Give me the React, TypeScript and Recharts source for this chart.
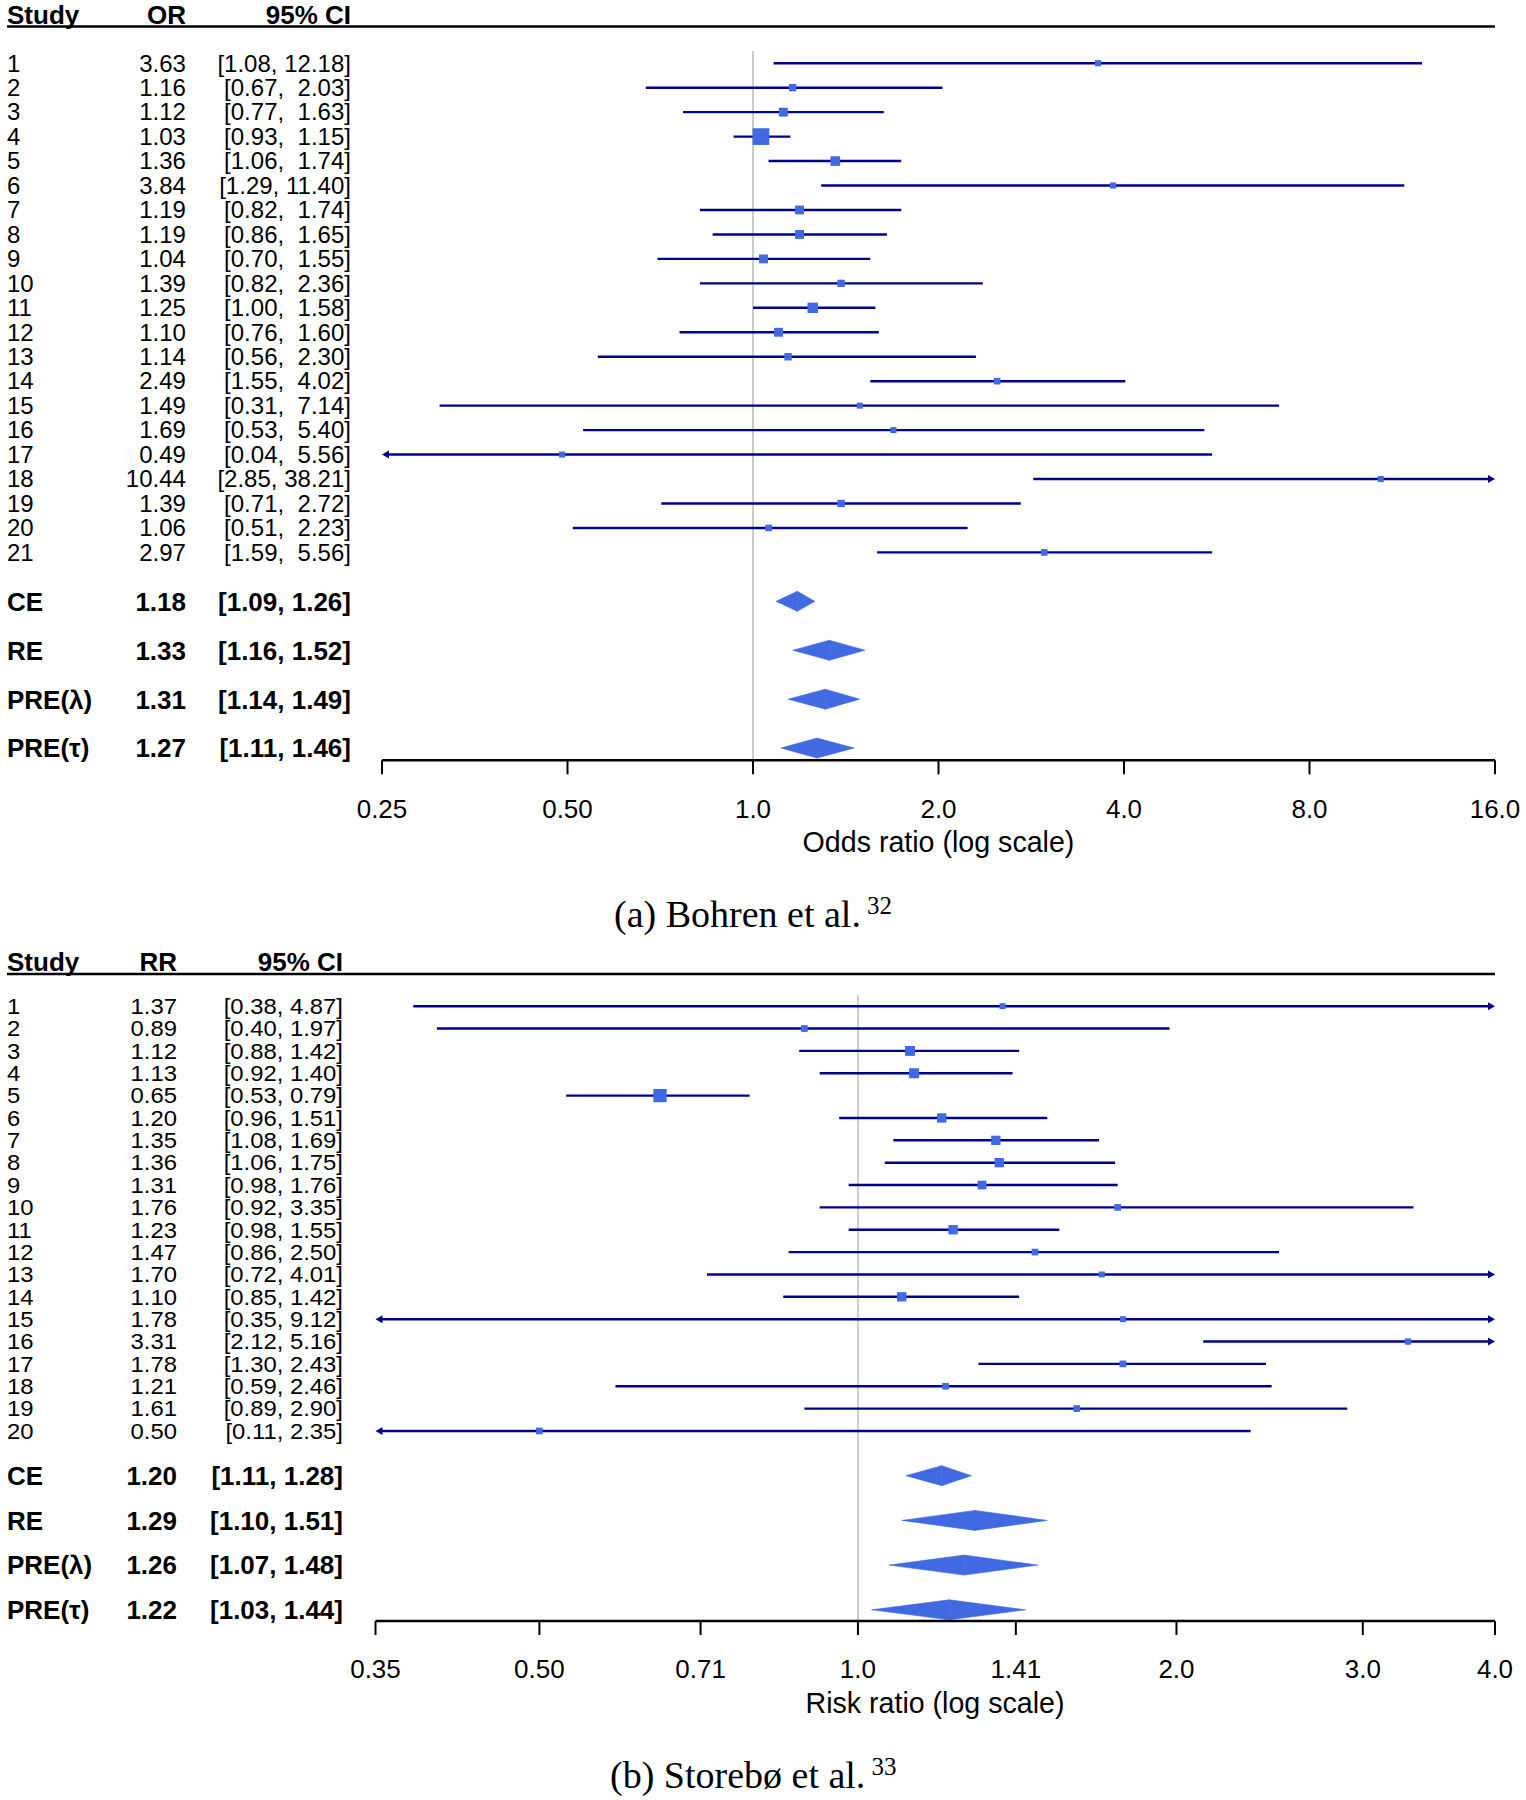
import React from 'react';
import { ComposedChart, XAxis, YAxis, Scatter, ReferenceLine } from 'recharts';

// ---------- Panel (a): Bohren et al. ----------
const studiesA = ['1', '2', '3', '4', '5', '6', '7', '8', '9', '10', '11', '12', '13', '14', '15', '16', '17', '18', '19', '20', '21'];
const estA = [3.63, 1.16, 1.12, 1.03, 1.36, 3.84, 1.19, 1.19, 1.04, 1.39, 1.25, 1.10, 1.14, 2.49, 1.49, 1.69, 0.49, 10.44, 1.39, 1.06, 2.97];
const lowA = [1.08, 0.67, 0.77, 0.93, 1.06, 1.29, 0.82, 0.86, 0.70, 0.82, 1.00, 0.76, 0.56, 1.55, 0.31, 0.53, 0.04, 2.85, 0.71, 0.51, 1.59];
const highA = [12.18, 2.03, 1.63, 1.15, 1.74, 11.40, 1.74, 1.65, 1.55, 2.36, 1.58, 1.60, 2.30, 4.02, 7.14, 5.40, 5.56, 38.21, 2.72, 2.23, 5.56];
const weightA = [1.2, 3.5, 6.5, 22, 8, 1.0, 6.5, 6.5, 6.5, 3.5, 9.5, 6.5, 3.5, 2.0, 0.8, 1.0, 0.8, 1.0, 3.5, 2.0, 2.0];
const sumLabelsA = ['CE', 'RE', 'PRE(λ)', 'PRE(τ)'];
const sumEstA = [1.18, 1.33, 1.31, 1.27];
const sumLowA = [1.09, 1.16, 1.14, 1.11];
const sumHighA = [1.26, 1.52, 1.49, 1.46];
const ticksA = [0.25, 0.5, 1, 2, 4, 8, 16];
const tickLabelsA = ['0.25', '0.50', '1.0', '2.0', '4.0', '8.0', '16.0'];

// ---------- Panel (b): Storebø et al. ----------
const studiesB = ['1', '2', '3', '4', '5', '6', '7', '8', '9', '10', '11', '12', '13', '14', '15', '16', '17', '18', '19', '20'];
const estB = [1.37, 0.89, 1.12, 1.13, 0.65, 1.20, 1.35, 1.36, 1.31, 1.76, 1.23, 1.47, 1.70, 1.10, 1.78, 3.31, 1.78, 1.21, 1.61, 0.50];
const lowB = [0.38, 0.40, 0.88, 0.92, 0.53, 0.96, 1.08, 1.06, 0.98, 0.92, 0.98, 0.86, 0.72, 0.85, 0.35, 2.12, 1.30, 0.59, 0.89, 0.11];
const highB = [4.87, 1.97, 1.42, 1.40, 0.79, 1.51, 1.69, 1.75, 1.76, 3.35, 1.55, 2.50, 4.01, 1.42, 9.12, 5.16, 2.43, 2.46, 2.90, 2.35];
const weightB = [0.5, 1.9, 8.4, 8.4, 15, 7.1, 7.1, 7.1, 5.9, 1.9, 7.1, 1.9, 0.5, 7.1, 0.5, 1.1, 1.9, 1.9, 1.9, 1.9];
const sumLabelsB = ['CE', 'RE', 'PRE(λ)', 'PRE(τ)'];
const sumEstB = [1.20, 1.29, 1.26, 1.22];
const sumLowB = [1.11, 1.10, 1.07, 1.03];
const sumHighB = [1.28, 1.51, 1.48, 1.44];
const ticksB = [0.35, 0.5, 0.71, 1, 1.41, 2, 3, 4];
const tickLabelsB = ['0.35', '0.50', '0.71', '1.0', '1.41', '2.0', '3.0', '4.0'];

const LINE = '#00008B';
const BOX = '#4169E1';
const SANS = '"Liberation Sans", Arial, Helvetica, sans-serif';
const SERIF = '"Liberation Serif", "Times New Roman", serif';

type PanelProps = {
  studies: string[]; est: number[]; low: number[]; high: number[]; weight: number[];
  sumLabels: string[]; sumEst: number[]; sumLow: number[]; sumHigh: number[];
  domain: [number, number]; ticks: number[]; tickLabels: string[];
  top: number; height: number; marginTop: number; xAxisH: number; leftW: number;
  estRight: number; ciRight: number; maxBox: number; rowFont: number; rowStretch: number; sumFont: number;
};

function CiShape(p: any) {
  const { x1, y1, x2, arrowL, arrowR } = p;
  const y = y1;
  const a = 7;
  const h = 4;
  const xs = arrowL ? x1 + a - 1 : x1;
  const xe = arrowR ? x2 - a + 1 : x2;
  return (
    <g>
      <line x1={xs} y1={y} x2={xe} y2={y} stroke={LINE} strokeWidth={2.4} />
      {arrowL && <polygon points={`${x1},${y} ${x1 + a},${y - h} ${x1 + a},${y + h}`} fill={LINE} />}
      {arrowR && <polygon points={`${x2},${y} ${x2 - a},${y - h} ${x2 - a},${y + h}`} fill={LINE} />}
    </g>
  );
}

function HalfDiamond(p: any) {
  const { x1, y1, x2, side } = p;
  const h = 10;
  const pts = side === 'left'
    ? `${x1},${y1} ${x2},${y1 - h} ${x2},${y1 + h}`
    : `${x1},${y1 - h} ${x2},${y1} ${x1},${y1 + h}`;
  return <polygon points={pts} fill={BOX} stroke={BOX} strokeWidth={0.6} strokeLinejoin="round" />;
}

function Panel(props: PanelProps) {
  const { studies, est, low, high, weight, sumLabels, sumEst, sumLow, sumHigh, domain, ticks, tickLabels,
    top, height, marginTop, xAxisH, leftW, estRight, ciRight, maxBox, rowFont, rowStretch, sumFont } = props;
  const n = studies.length;
  const sumRows = sumLabels.map((_, j) => n + 2 + 2 * j);
  const rows = [...studies.map((_, i) => i + 1), ...sumRows];
  const wMin = Math.min(...weight);
  const wMax = Math.max(...weight);
  const minBox = 6;
  const boxSize = (w: number) => minBox + ((w - wMin) / (wMax - wMin)) * (maxBox - minBox);
  const loPad = Math.max(...low.map((v) => v.toFixed(2).length));
  const hiPad = Math.max(...high.map((v) => v.toFixed(2).length));

  const points = studies.map((s, i) => ({ x: est[i], y: i + 1, w: weight[i] }));

  const YTick = (tp: any) => {
    const { y, payload } = tp;
    const k = payload.value;
    let label = '';
    let e = '';
    let ci = '';
    let bold = false;
    if (k <= n) {
      const i = k - 1;
      label = studies[i];
      e = est[i].toFixed(2);
      ci = '[' + low[i].toFixed(2).padStart(loPad, ' ') + ', ' + high[i].toFixed(2).padStart(hiPad, ' ') + ']';
    } else {
      const j = (k - n - 2) / 2;
      label = sumLabels[j];
      e = sumEst[j].toFixed(2);
      ci = '[' + sumLow[j].toFixed(2) + ', ' + sumHigh[j].toFixed(2) + ']';
      bold = true;
    }
    const fs = bold ? sumFont : rowFont;
    const sx = bold ? 1 : rowStretch;
    const common = { fontFamily: SANS, fontSize: fs, fontWeight: bold ? 700 : 400, fill: '#000', dy: '0.36em', style: { whiteSpace: 'pre' as const } };
    return (
      <g>
        <text transform={`translate(7,${y}) scale(${sx},1)`} x={0} y={0} textAnchor="start" {...common}>{label}</text>
        <text transform={`translate(${estRight},${y}) scale(${sx},1)`} x={0} y={0} textAnchor="end" {...common}>{e}</text>
        <text transform={`translate(${ciRight},${y}) scale(${sx},1)`} x={0} y={0} textAnchor="end" {...common}>{ci}</text>
      </g>
    );
  };

  const XTick = (tp: any) => {
    const { x, y, payload } = tp;
    const idx = ticks.indexOf(payload.value);
    return (
      <text x={x} y={y + 34} dy="0.36em" textAnchor="middle" fontFamily={SANS} fontSize={26} fill="#000">
        {idx >= 0 ? tickLabels[idx] : ''}
      </text>
    );
  };

  return (
    <div style={{ position: 'absolute', left: 0, top, width: 1526, height }}>
      <ComposedChart width={1526} height={height} margin={{ top: marginTop, right: 31, bottom: 0, left: 0 }}>
        <XAxis
          dataKey="x"
          type="number"
          scale="log"
          domain={domain}
          ticks={ticks}
          allowDataOverflow
          interval={0}
          height={xAxisH}
          tickSize={14}
          tickMargin={0}
          axisLine={{ stroke: '#000', strokeWidth: 2.5 }}
          tickLine={{ stroke: '#000', strokeWidth: 2 }}
          tick={XTick}
        />
        <YAxis
          dataKey="y"
          type="number"
          domain={[0.5, n + 8.5]}
          reversed
          ticks={rows}
          interval={0}
          width={leftW}
          axisLine={false}
          tickLine={false}
          tick={YTick}
        />
        <ReferenceLine x={1} stroke="#cccccc" strokeWidth={2} ifOverflow="visible" />
        {studies.map((s, i) => {
          const l = Math.max(low[i], domain[0]);
          const h = Math.min(high[i], domain[1]);
          const arrowL = low[i] <= domain[0];
          const arrowR = high[i] > domain[1];
          return (
            <ReferenceLine
              key={'ci' + i}
              segment={[{ x: l, y: i + 1 }, { x: h, y: i + 1 }]}
              ifOverflow="visible"
              shape={(p: any) => <CiShape {...p} arrowL={arrowL} arrowR={arrowR} />}
            />
          );
        })}
        {sumLabels.map((s, j) => (
          <ReferenceLine
            key={'dl' + j}
            segment={[{ x: sumLow[j], y: sumRows[j] }, { x: sumEst[j], y: sumRows[j] }]}
            ifOverflow="visible"
            shape={(p: any) => <HalfDiamond {...p} side="left" />}
          />
        ))}
        {sumLabels.map((s, j) => (
          <ReferenceLine
            key={'dr' + j}
            segment={[{ x: sumEst[j], y: sumRows[j] }, { x: sumHigh[j], y: sumRows[j] }]}
            ifOverflow="visible"
            shape={(p: any) => <HalfDiamond {...p} side="right" />}
          />
        ))}
        <Scatter
          data={points}
          isAnimationActive={false}
          shape={(p: any) => {
            const s = boxSize(p.payload.w);
            return <rect x={p.cx - s / 2} y={p.cy - s / 2} width={s} height={s} fill={BOX} />;
          }}
        />
      </ComposedChart>
    </div>
  );
}

export default function App() {
  return (
    <div style={{ position: 'absolute', left: 0, top: 0, width: 1526, height: 1800, background: '#fff' }}>
      <Panel
        studies={studiesA} est={estA} low={lowA} high={highA} weight={weightA}
        sumLabels={sumLabelsA} sumEst={sumEstA} sumLow={sumLowA} sumHigh={sumHighA}
        domain={[0.25, 16]} ticks={ticksA} tickLabels={tickLabelsA}
        top={0} height={880} marginTop={51} xAxisH={119.7} leftW={382}
        estRight={186} ciRight={351} maxBox={16.7} rowFont={23} rowStretch={1.045} sumFont={26}
      />
      <Panel
        studies={studiesB} est={estB} low={lowB} high={highB} weight={weightB}
        sumLabels={sumLabelsB} sumEst={sumEstB} sumLow={sumLowB} sumHigh={sumHighB}
        domain={[0.35, 4]} ticks={ticksB} tickLabels={tickLabelsB}
        top={940} height={800} marginTop={55} xAxisH={119} leftW={375.5}
        estRight={177} ciRight={343} maxBox={13.3} rowFont={21.5} rowStretch={1.11} sumFont={26}
      />
      <svg width={1526} height={1800} style={{ position: 'absolute', left: 0, top: 0, pointerEvents: 'none' }}>
        <g fontFamily={SANS} fontWeight={700} fontSize={26} fill="#000">
          <text x={7} y={23.5}>Study</text>
          <text x={186} y={23.5} textAnchor="end">OR</text>
          <text x={351} y={23.5} textAnchor="end">95% CI</text>
          <text x={7} y={971}>Study</text>
          <text x={177} y={971} textAnchor="end">RR</text>
          <text x={343} y={971} textAnchor="end">95% CI</text>
        </g>
        <line x1={7} y1={26.5} x2={1495} y2={26.5} stroke="#000" strokeWidth={2.5} />
        <line x1={7} y1={974} x2={1495} y2={974} stroke="#000" strokeWidth={2.5} />
        <g fontFamily={SANS} fontSize={28.6} fill="#000" textAnchor="middle">
          <text x={938.5} y={842} dy="0.36em">Odds ratio (log scale)</text>
          <text x={935} y={1703} dy="0.36em">Risk ratio (log scale)</text>
        </g>
        <g fontFamily={SERIF} fontSize={38} fill="#000">
          <text x={614} y={927}>(a) Bohren et al.<tspan dx={6} dy={-13} fontSize={25}>32</tspan></text>
          <text x={610} y={1788}>(b) Storebø et al.<tspan dx={6} dy={-13} fontSize={25}>33</tspan></text>
        </g>
      </svg>
    </div>
  );
}
